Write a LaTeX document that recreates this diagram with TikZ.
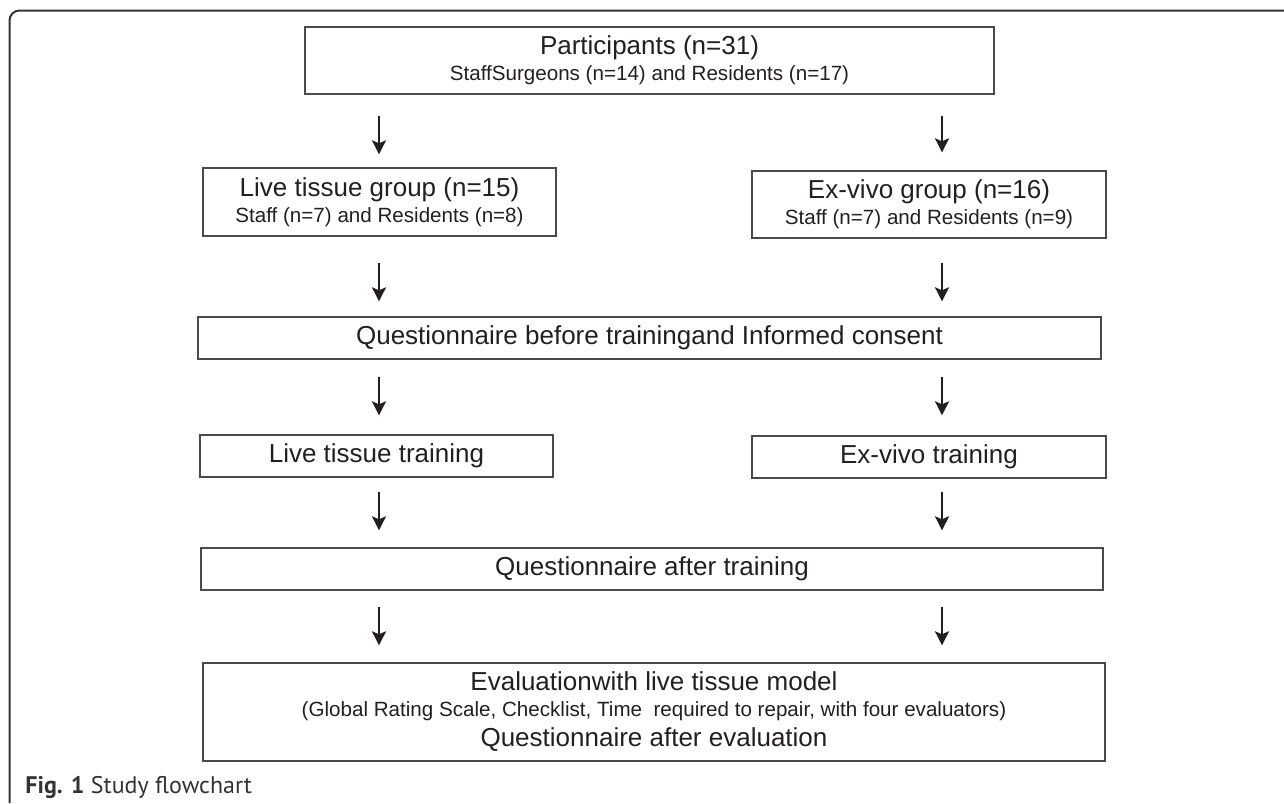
\documentclass[tikz,border=0pt]{standalone}
\usepackage{fontspec}
\setmainfont{Liberation Sans}
\newfontfamily\capfont{PT Sans}
\usepackage{tikz}
\usepackage{xcolor}
\usetikzlibrary{positioning, arrows.meta}
\definecolor{linegray}{HTML}{4A4A4A}
\definecolor{framegray}{HTML}{333333}
\definecolor{inkblack}{HTML}{231F20}
\newcommand{\subline}[1]{{\fontsize{10.3}{13}\selectfont #1}}

\begin{document}
\begin{tikzpicture}[x=0.5pt, y=-0.5pt,
        box/.style={draw=linegray, line width=0.65pt, inner sep=0pt, align=center, text=inkblack, font=\fontsize{13}{13}\selectfont},
        flow/.style={-{Stealth[length=7pt, width=7pt, inset=1.5pt]}, line width=1.2pt, inkblack}]
                    \useasboundingbox (0, 0) rectangle (1284, 803);
                    \draw[framegray, line width=1pt, rounded corners=5pt] (1284, 10.5) -- (9.5, 10.5) -- (9.5, 803);

                    \node[box, minimum width=344.5pt, minimum height=33.5pt] (part) at (649.5, 60.5) {Participants (n=31)\\\subline{StaffSurgeons (n=14) and Residents (n=17)}};
                    \node[box, minimum width=176.5pt, minimum height=34pt] (lgroup) at (379.5, 202) {Live tissue group (n=15)\\\subline{Staff (n=7) and Residents (n=8)}};
                    \node[box, minimum width=177pt, minimum height=33.5pt] (xgroup) at (929, 204.5) {Ex-vivo group (n=16)\\\subline{Staff (n=7) and Residents (n=9)}};
                    \node[box, minimum width=451.5pt, minimum height=21pt] (qbefore) at (649.5, 338) {Questionnaire before trainingand Informed consent};
                    \node[box, minimum width=176.5pt, minimum height=21pt] (ltrain) at (376.5, 456) {Live tissue training};
                    \node[box, minimum width=177pt, minimum height=21pt] (xtrain) at (929, 457) {Ex-vivo training};
                    \node[box, minimum width=451pt, minimum height=21pt] (qafter) at (652, 569) {Questionnaire after training};
                    \node[box, minimum width=451pt, minimum height=49pt] (eval) at (654, 712) {Evaluationwith live tissue model\\\subline{(Global Rating Scale, Checklist, Time~ required to repair, with four evaluators)}\\[2pt]Questionnaire after evaluation};
                    \node[anchor=base west, inner sep=0pt, text=framegray, font=\capfont\fontsize{12}{14}\selectfont] (caption) at (25, 793) {\textbf{Fig. 1} Study flowchart};

                    \coordinate (lcol) at (379, 0);
                    \coordinate (rcol) at (942, 0);

                    \draw[flow, shorten <=10.5pt, shorten >=6.5pt] (part.south -| lcol) -- (lgroup.north -| lcol);
                    \draw[flow, shorten <=10.5pt, shorten >=9pt] (part.south -| rcol) -- (xgroup.north -| rcol);
                    \draw[flow, shorten <=13pt, shorten >=7.5pt] (lgroup.south -| lcol) -- (qbefore.north -| lcol);
                    \draw[flow, shorten <=12pt, shorten >=7.5pt] (xgroup.south -| rcol) -- (qbefore.north -| rcol);
                    \draw[flow, shorten <=8.5pt, shorten >=9.5pt] (qbefore.south -| lcol) -- (ltrain.north -| lcol);
                    \draw[flow, shorten <=8.5pt, shorten >=10pt] (qbefore.south -| rcol) -- (xtrain.north -| rcol);
                    \draw[flow, shorten <=7pt, shorten >=8.5pt] (ltrain.south -| lcol) -- (qafter.north -| lcol);
                    \draw[flow, shorten <=6.5pt, shorten >=8.5pt] (xtrain.south -| rcol) -- (qafter.north -| rcol);
                    \draw[flow, shorten <=8pt, shorten >=8.5pt] (qafter.south -| lcol) -- (eval.north -| lcol);
                    \draw[flow, shorten <=8pt, shorten >=8.5pt] (qafter.south -| rcol) -- (eval.north -| rcol);
                \end{tikzpicture}
\end{document}
